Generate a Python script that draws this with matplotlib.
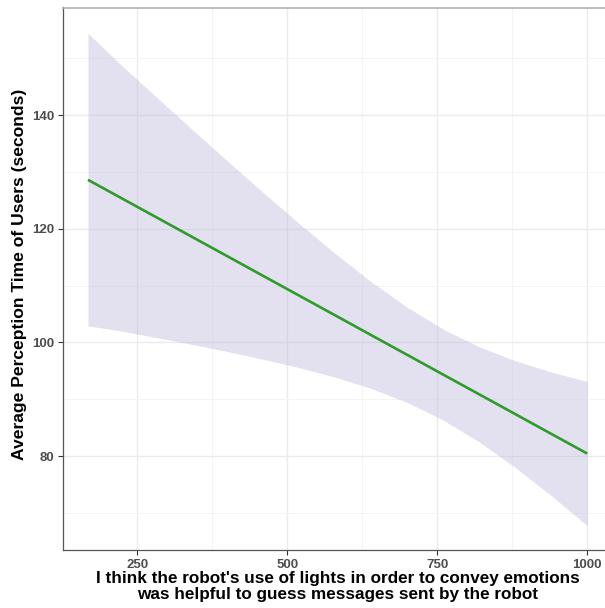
import matplotlib
matplotlib.use("Agg")
import matplotlib.pyplot as plt
from matplotlib.ticker import FixedLocator

# Data
x_vals = [168, 220, 280, 340, 400, 460, 520, 580, 640, 700, 760, 820, 880, 940, 1000]
fit_vals = [128.6, 125.59, 122.12, 118.64, 115.17, 111.69, 108.22, 104.75, 101.27,
            97.80, 94.32, 90.85, 87.38, 83.90, 80.43]
upper_vals = [154.4, 149.12, 143.36, 137.62, 131.95, 126.36, 120.90, 115.63, 110.66,
              106.17, 102.32, 99.22, 96.77, 94.78, 93.11]
lower_vals = [102.9, 102.06, 100.88, 99.66, 98.39, 97.02, 95.54, 93.87, 91.88,
              89.43, 86.32, 82.48, 77.99, 73.02, 67.75]
x_ticks = [250, 500, 750, 1000]
y_ticks = [80, 100, 120, 140]
x_title_lines = ["I think the robot's use of lights in order to convey emotions",
                 "was helpful to guess messages sent by the robot"]
y_title = "Average Perception Time of Users (seconds)"

plt.rcParams['font.family'] = ['Liberation Sans', 'DejaVu Sans']

fig = plt.figure(figsize=(6.05, 6.08), dpi=100)
ax = fig.add_axes([63/605, 1-550/608, (612.2-63)/605, (550-7.5)/608])

ax.fill_between(x_vals, lower_vals, upper_vals, color=(185/255, 182/255, 215/255),
                alpha=0.4, linewidth=0, zorder=3)
ax.plot(x_vals, fit_vals, color='#2e9b2a', linewidth=1.9, zorder=4,
        solid_capstyle='butt')

ax.set_xlim(126.4, 1041.6)
ax.set_ylim(63.46, 158.92)
ax.xaxis.set_major_locator(FixedLocator(x_ticks))
ax.yaxis.set_major_locator(FixedLocator(y_ticks))
ax.xaxis.set_minor_locator(FixedLocator([375, 625, 875]))
ax.yaxis.set_minor_locator(FixedLocator([70, 90, 110, 130, 150]))
ax.set_xticklabels([str(v) for v in x_ticks])
ax.set_yticklabels([str(v) for v in y_ticks])

ax.grid(which='major', color='#ebebeb', linewidth=1.0, zorder=0)
ax.grid(which='minor', color='#f4f4f4', linewidth=0.7, zorder=0)
ax.set_axisbelow(True)

ax.tick_params(which='major', direction='out', length=3.5, width=0.8, color='#333333',
               labelsize=9.5, labelcolor='#4d4d4d', pad=3)
ax.tick_params(which='minor', length=0)
for lab in ax.get_xticklabels() + ax.get_yticklabels():
    lab.set_fontweight('bold')

for s in ['left', 'bottom']:
    ax.spines[s].set_color('#555555')
    ax.spines[s].set_linewidth(0.9)
ax.spines['top'].set_color('#b0b0b0')
ax.spines['top'].set_linewidth(1.2)
ax.spines['right'].set_visible(False)

for txt, base in zip(x_title_lines, [582.5, 599.3]):
    fig.text(337.6/605, 1-base/608, txt, ha='center', va='baseline',
             fontsize=12.3, fontweight='bold', color='black')
fig.text(20/605, 1-274/608, y_title,
         ha='center', va='center', rotation=90, fontsize=12.6, fontweight='bold',
         color='black')

fig.savefig("out.png", dpi=100)
